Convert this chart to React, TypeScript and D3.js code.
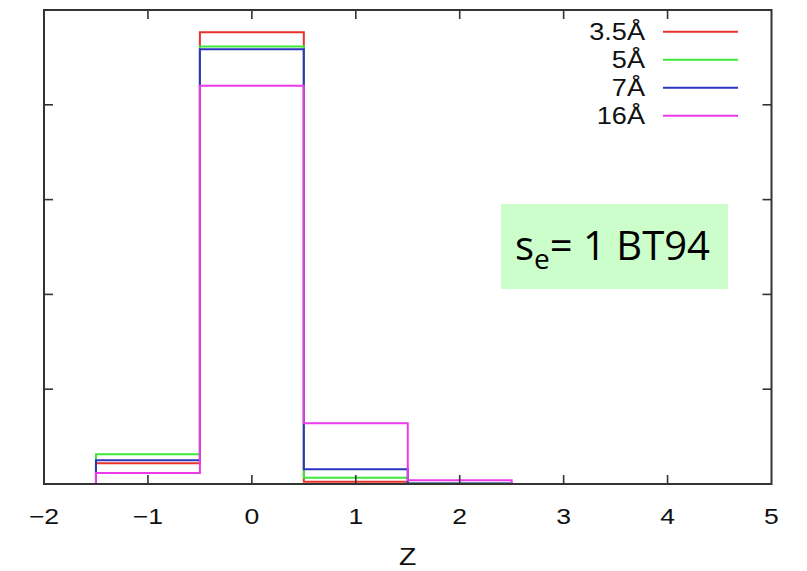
import React from 'react';
import * as d3 from 'd3';

// bin centres (unit-wide bins) and fraction per bin
const binCenters = [-1, 0, 1, 2, 3, 4, 5];
const series = ['3.5Å', '5Å', '7Å', '16Å'];
const colors = ['#e8322c', '#3ee83a', '#2a36c0', '#ea3aea'];
const red = [0.044, 0.953, 0.005, 0, 0, 0, 0];
const green = [0.063, 0.923, 0.013, 0.001, 0, 0, 0];
const blue = [0.05, 0.917, 0.031, 0.001, 0, 0, 0];
const magenta = [0.023, 0.84, 0.128, 0.008, 0, 0, 0];
const values = [red, green, blue, magenta];
const xTicks = [-2, -1, 0, 1, 2, 3, 4, 5];
const yTicks = [0, 0.2, 0.4, 0.6, 0.8, 1];

const W = 807;
const H = 571;
const left = 44, right = 771.5, top = 10, bottom = 484;

export default function App() {
  const x = d3.scaleLinear().domain([-2, 5]).range([left, right]);
  const y = d3.scaleLinear().domain([0, 1]).range([bottom, top]);

  const line = d3
    .line<[number, number]>()
    .x((d) => x(d[0]))
    .y((d) => y(d[1]))
    .curve(d3.curveStepAfter);

  const stepPoints = (vals: number[]): [number, number][] => {
    const pts: [number, number][] = [[binCenters[0] - 0.5, 0]];
    vals.forEach((v, i) => pts.push([binCenters[i] - 0.5, v]));
    pts.push([binCenters[binCenters.length - 1] + 0.5, vals[vals.length - 1]]);
    return pts;
  };

  const font = '"Liberation Sans", Arial, Helvetica, sans-serif';
  const tick = 9;

  return (
    <svg
      width={W}
      height={H}
      style={{ position: 'absolute', left: 0, top: 0, background: '#fff' }}
    >
      <defs>
        <clipPath id="plot">
          <rect x={left} y={top - 2} width={right - left} height={bottom - top + 4} />
        </clipPath>
      </defs>

      {/* histogram steps */}
      <g clipPath="url(#plot)" fill="none">
        {values.map((vals, k) => (
          <path key={k} d={line(stepPoints(vals)) || ''} stroke={colors[k]} strokeWidth={2} />
        ))}
      </g>

      {/* frame + ticks */}
      <g stroke="#333" strokeWidth={1.6}>
        {xTicks.slice(1, -1).map((t) => (
          <g key={t}>
            <line x1={x(t)} x2={x(t)} y1={bottom} y2={bottom - tick} />
            <line x1={x(t)} x2={x(t)} y1={top} y2={top + tick} />
          </g>
        ))}
        {yTicks.slice(1, -1).map((t) => (
          <g key={t}>
            <line x1={left} x2={left + tick} y1={y(t)} y2={y(t)} />
            <line x1={right} x2={right - tick} y1={y(t)} y2={y(t)} />
          </g>
        ))}
        <rect x={left} y={top} width={right - left} height={bottom - top} fill="none" strokeWidth={2} />
      </g>

      {/* x tick labels */}
      <g fontFamily={font} fontSize={22.5} fill="#111" textAnchor="middle">
        {xTicks.map((t) => (
          <text key={t} transform={`translate(${x(t)},${523.5}) scale(1.18,1)`}>
            {t < 0 ? `−${Math.abs(t)}` : t}
          </text>
        ))}
        <text transform={`translate(${(left + right) / 2},${565}) scale(1.18,1)`} fontSize={24}>
          Z
        </text>
      </g>

      {/* legend */}
      <g fontFamily={font} fontSize={23} fill="#111">
        {series.map((s, k) => (
          <g key={s}>
            <text
              textAnchor="end"
              transform={`translate(645,${31.7 + k * 28 + 8}) scale(1.18,1)`}
            >
              {s}
            </text>
            <line
              x1={663}
              x2={738}
              y1={31.7 + k * 28}
              y2={31.7 + k * 28}
              stroke={colors[k]}
              strokeWidth={2}
            />
          </g>
        ))}
      </g>

      {/* annotation box */}
      <rect x={501} y={204} width={227} height={85} fill="#ccfecc" />
      <text x={515} y={260} fontFamily='"Open Sans", Lato, sans-serif' fontSize={40} fill="#000">
        s
        <tspan dy={9} fontSize={28}>e</tspan>
        <tspan dy={-9}>= 1 BT94</tspan>
      </text>
    </svg>
  );
}
